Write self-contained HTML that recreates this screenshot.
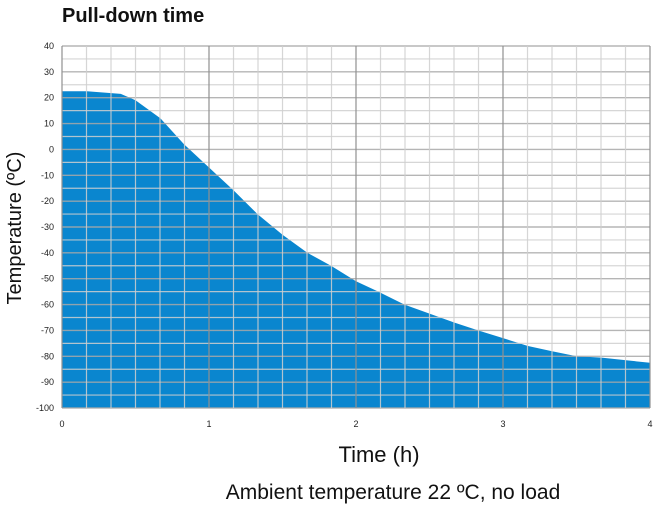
<!DOCTYPE html>
<html><head><meta charset="utf-8"><style>
body{margin:0;background:#fff;width:670px;height:507px;overflow:hidden;font-family:"Liberation Sans",sans-serif}
</style></head><body>
<svg id="chart" width="670" height="507" xmlns="http://www.w3.org/2000/svg">
<text x="62" y="22" font-size="20" font-weight="bold" fill="#111">Pull-down time</text>
<g id="plot"></g>
<text transform="translate(21,228) rotate(-90)" text-anchor="middle" font-size="20" fill="#111">Temperature (ºC)</text>
<text x="379" y="462" text-anchor="middle" font-size="22" fill="#111">Time (h)</text>
<text x="393" y="499" text-anchor="middle" font-size="21" fill="#111">Ambient temperature 22 ºC, no load</text>
</svg>
<script>
const times=[0,0.17,0.4,0.5,0.67,0.83,1,1.17,1.33,1.5,1.67,1.83,2,2.17,2.33,2.5,2.67,2.83,3,3.17,3.33,3.5,3.67,3.83,4];
const temps=[22.5,22.5,21.5,19,12,2,-7,-16,-25,-33,-40,-45,-51,-55.5,-60,-63.5,-67,-70,-73,-76,-78,-80,-80.5,-81.5,-82.5];
const yTicks=[40,30,20,10,0,-10,-20,-30,-40,-50,-60,-70,-80,-90,-100];
const xTicks=[0,1,2,3,4];
const X0=62,X1=650,Y0=46,Y1=408;
const xs=t=>X0+(t-0)/4*(X1-X0);
const ys=v=>Y0+(40-v)/140*(Y1-Y0);
const NS="http://www.w3.org/2000/svg";
const g=document.getElementById('plot');
function mk(tag,attrs){const e=document.createElementNS(NS,tag);for(const k in attrs)e.setAttribute(k,attrs[k]);g.appendChild(e);return e;}
let d=`M${xs(times[0])},${ys(-100)}`;
times.forEach((t,i)=>{d+=` L${xs(t)},${ys(temps[i])}`;});
d+=` L${xs(times[times.length-1])},${ys(-100)} Z`;
const area=mk('path',{d:d,fill:'#0a86cf','stroke-linejoin':'round'});


for(let v=-100;v<=40;v+=5){
 const major=v%10===0;
 const l=mk('line',{x1:X0,x2:X1,y1:ys(v),y2:ys(v),stroke:major?'#a8a8a8':'#cfcfcf','stroke-width':major?1.4:1.2,'stroke-opacity':0.85});
 
 
}
for(let i=0;i<=24;i++){
 const t=i/6;const major=i%6===0;
 const l=mk('line',{x1:xs(t),x2:xs(t),y1:Y0,y2:Y1,stroke:major?'#909090':'#cfcfcf','stroke-width':major?1.4:1.2,'stroke-opacity':0.85});
 
 
}
yTicks.forEach(v=>{
 const t=mk('text',{x:X0-8,y:ys(v)+3,'text-anchor':'end','font-size':9,fill:'#222'});
 t.textContent=v;
 
 
});
xTicks.forEach(v=>{
 const t=mk('text',{x:xs(v),y:427,'text-anchor':'middle','font-size':9,fill:'#222'});
 t.textContent=v;
 
 
});
</script>
</body></html>
